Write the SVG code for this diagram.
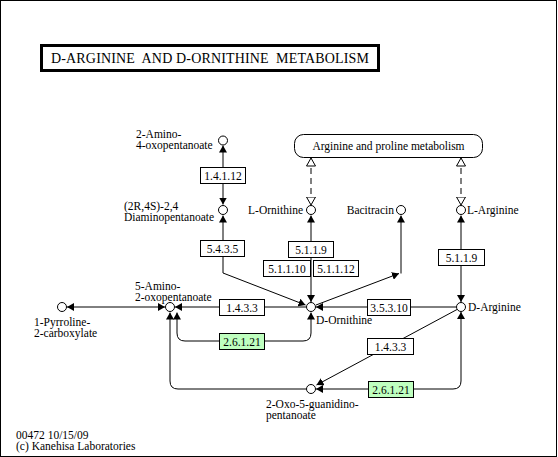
<svg xmlns="http://www.w3.org/2000/svg" width="558" height="457" viewBox="0 0 558 457">
<style>
text{font-family:"Liberation Serif","Times New Roman",serif;font-size:11.5px;fill:#000}
.lbl{text-anchor:start}
.ec text{text-anchor:middle}
.ecb{fill:#fff;stroke:#000;stroke-width:1}
.gene{fill:#bfffbf}
.cpd{fill:#fff;stroke:#000;stroke-width:1}
.ln{fill:none;stroke:#000;stroke-width:1}
.a{marker-end:url(#ah)}
.s{marker-start:url(#ah)}
.d{fill:none;stroke:#000;stroke-width:1;stroke-dasharray:6,4;marker-start:url(#oh);marker-end:url(#oh)}
</style>
<defs>
<marker id="ah" viewBox="0 0 7 8" refX="7" refY="4" markerWidth="7" markerHeight="8" markerUnits="userSpaceOnUse" orient="auto-start-reverse"><path d="M0,0 L7,4 L0,8 z" fill="#000"/></marker>
<marker id="oh" viewBox="0 0 9 10" refX="8.5" refY="5" markerWidth="9" markerHeight="10" markerUnits="userSpaceOnUse" orient="auto-start-reverse"><path d="M0.5,0.5 L8.5,5 L0.5,9.5 z" fill="#fff" stroke="#000" stroke-width="1"/></marker>
</defs>
<rect x="0.5" y="0.5" width="556" height="456" fill="#fff" stroke="#000"/>
<g id="title">
<rect x="41.5" y="45.5" width="337" height="25" fill="#fff" stroke="#000" stroke-width="3"/>
<text x="210" y="63" text-anchor="middle" style="font-size:14px" textLength="318" xml:space="preserve">D-ARGININE  AND D-ORNITHINE  METABOLISM</text>
</g>
<g id="connectors">
<line class="ln a s" x1="223" y1="145.5" x2="223" y2="204.5"/>
<polyline class="ln a s" points="223,215.5 223,273 305.5,305"/>
<line class="ln a s" x1="311" y1="215.5" x2="311" y2="302"/>
<line class="ln a" x1="316" y1="305" x2="399" y2="273.5"/>
<line class="ln a" x1="401" y1="273.5" x2="401" y2="215.5"/>
<line class="ln s" x1="316" y1="307" x2="456" y2="307"/>
<line class="ln a s" x1="461" y1="215.5" x2="461" y2="302"/>
<line class="ln a" x1="457" y1="309.5" x2="316.5" y2="385"/>
<path class="ln a s" d="M461,312 V381 Q461,389 453,389 H316"/>
<line class="ln a" x1="306" y1="307" x2="175" y2="307"/>
<path class="ln a s" d="M177,312.5 V333 Q177,341 185,341 H303 Q311,341 311,333 V312.5"/>
<path class="ln s" d="M170,312.5 V381 Q170,389 178,389 H306.5"/>
<line class="ln a s" x1="67" y1="307" x2="165" y2="307"/>
<line class="d" x1="311" y1="158" x2="311" y2="205"/>
<line class="d" x1="461" y1="158" x2="461" y2="205"/>
</g>
<g id="map_arginine_proline">
<rect x="294.5" y="134.5" width="188" height="23" rx="9" ry="9" fill="#fff" stroke="#000"/>
<text x="388.5" y="150" text-anchor="middle">Arginine and proline metabolism</text>
</g>
<g id="ec_1.4.1.12" class="ec"><rect class="ecb" x="200.5" y="167.5" width="45" height="16"/><text x="223" y="179.5">1.4.1.12</text></g>
<g id="ec_5.4.3.5" class="ec"><rect class="ecb" x="200.5" y="240.5" width="44" height="16"/><text x="222.5" y="252.5">5.4.3.5</text></g>
<g id="ec_5.1.1.9_a" class="ec"><rect class="ecb" x="288.5" y="241.5" width="45" height="16"/><text x="311" y="253.5">5.1.1.9</text></g>
<g id="ec_5.1.1.10" class="ec"><rect class="ecb" x="263.5" y="260.5" width="47" height="16"/><text x="287" y="272.5">5.1.1.10</text></g>
<g id="ec_5.1.1.12" class="ec"><rect class="ecb" x="313.5" y="260.5" width="45" height="16"/><text x="336" y="272.5">5.1.1.12</text></g>
<g id="ec_5.1.1.9_b" class="ec"><rect class="ecb" x="438.5" y="249.5" width="46" height="16"/><text x="461.5" y="261.5">5.1.1.9</text></g>
<g id="ec_3.5.3.10" class="ec"><rect class="ecb" x="367.5" y="299.5" width="43" height="16"/><text x="389" y="311.5">3.5.3.10</text></g>
<g id="ec_1.4.3.3_a" class="ec"><rect class="ecb" x="367.5" y="338.5" width="46" height="16"/><text x="390.5" y="350.5">1.4.3.3</text></g>
<g id="ec_2.6.1.21_a" class="ec"><rect class="ecb gene" x="368.5" y="381.5" width="45" height="16"/><text x="391" y="393.5">2.6.1.21</text></g>
<g id="ec_1.4.3.3_b" class="ec"><rect class="ecb" x="219.5" y="299.5" width="45" height="16"/><text x="242" y="311.5">1.4.3.3</text></g>
<g id="ec_2.6.1.21_b" class="ec"><rect class="ecb gene" x="219.5" y="333.5" width="45" height="16"/><text x="242" y="345.5">2.6.1.21</text></g>
<g id="c_2amino4oxo"><circle class="cpd" cx="223" cy="140.5" r="4.5"/><text class="lbl" x="136" y="138">2-Amino-</text><text class="lbl" x="136" y="149">4-oxopentanoate</text></g>
<g id="c_diaminopentanoate"><circle class="cpd" cx="223" cy="210" r="4.5"/><text class="lbl" x="124" y="210">(2R,4S)-2,4</text><text class="lbl" x="124" y="221">Diaminopentanoate</text></g>
<g id="c_lornithine"><circle class="cpd" cx="311" cy="210" r="4.5"/><text x="303" y="214" text-anchor="end">L-Ornithine</text></g>
<g id="c_bacitracin"><circle class="cpd" cx="401" cy="210" r="4.5"/><text x="394" y="214" text-anchor="end">Bacitracin</text></g>
<g id="c_larginine"><circle class="cpd" cx="461" cy="210" r="4.5"/><text class="lbl" x="467" y="214">L-Arginine</text></g>
<g id="c_5amino2oxo"><circle class="cpd" cx="170" cy="307" r="4.5"/><text class="lbl" x="135" y="290">5-Amino-</text><text class="lbl" x="135" y="300.5">2-oxopentanoate</text></g>
<g id="c_pyrroline"><circle class="cpd" cx="62" cy="307" r="4.5"/><text class="lbl" x="34" y="326">1-Pyrroline-</text><text class="lbl" x="34" y="337">2-carboxylate</text></g>
<g id="c_dornithine"><circle class="cpd" cx="311" cy="307" r="4.5"/><text class="lbl" x="316" y="324">D-Ornithine</text></g>
<g id="c_darginine"><circle class="cpd" cx="461" cy="307" r="4.5"/><text class="lbl" x="468" y="311">D-Arginine</text></g>
<g id="c_2oxo5guanidino"><circle class="cpd" cx="311" cy="389" r="4.5"/><text class="lbl" x="266" y="408">2-Oxo-5-guanidino-</text><text class="lbl" x="266" y="419">pentanoate</text></g>
<g id="footer"><text class="lbl" x="16" y="439">00472 10/15/09</text><text class="lbl" x="16" y="450">(c) Kanehisa Laboratories</text></g>
</svg>
